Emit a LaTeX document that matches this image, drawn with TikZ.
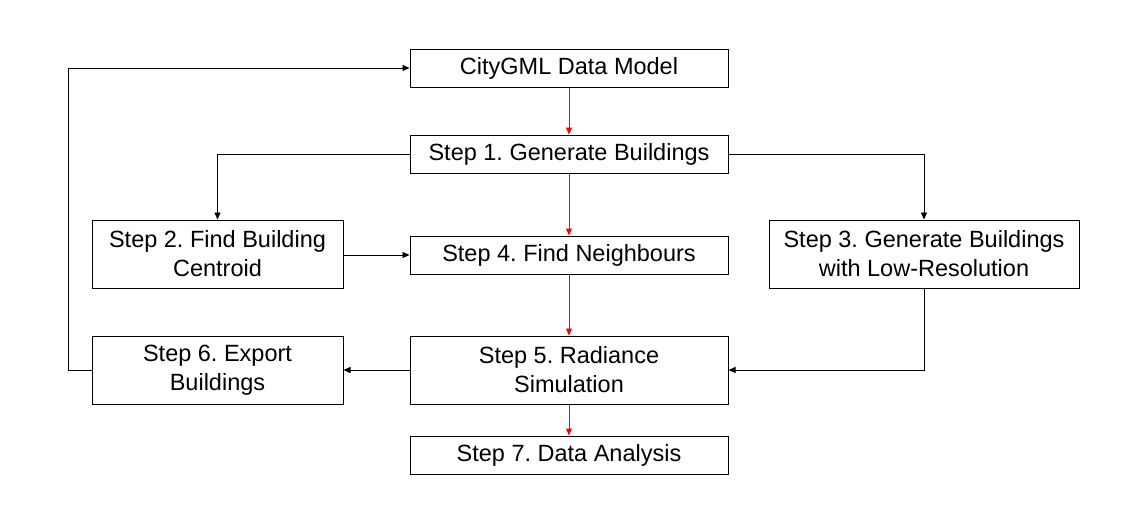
\documentclass[tikz,border=0pt]{standalone}
\usepackage{fontspec}
\setmainfont{Liberation Sans}
\usetikzlibrary{arrows.meta}
\frenchspacing
\begin{document}
\begin{tikzpicture}[x=1pt,y=-1pt,
  box/.style={draw=black,line width=1pt,inner sep=0pt,align=center,font=\fontsize{23.5}{29}\selectfont\frenchspacing},
  wide/.style={box,minimum width=318pt,minimum height=38pt},
  tall/.style={box,minimum height=68pt},
  conn/.style={line width=0.9pt,-{Triangle[length=7pt,width=6pt]}},
  redc/.style={conn,draw=red,-{Triangle[length=7pt,width=6pt,fill=red]}}]
\useasboundingbox (0,0) rectangle (1135,520);
\node[wide] (city) at (569,68) {\raisebox{-1.5pt}{CityGML Data Model}};
\node[wide] (s1) at (569,154) {\raisebox{-1.5pt}{Step 1. Generate Buildings}};
\node[tall,minimum width=251pt] (s2) at (217.5,254) {Step 2. Find Building\\Centroid};
\node[wide] (s4) at (569,255) {\raisebox{-1.5pt}{Step 4. Find Neighbours}};
\node[tall,minimum width=310pt] (s3) at (924,254) {Step 3. Generate Buildings\\with Low-Resolution};
\node[tall,minimum width=318pt] (s5) at (569,370) {Step 5. Radiance\\Simulation};
\node[tall,minimum width=251pt] (s6) at (217.5,370) {Step 6. Export\\Buildings};
\node[wide] (s7) at (569,455) {\raisebox{-1.5pt}{Step 7. Data Analysis}};
\coordinate (back) at (68,370);
\draw[redc] (city) -- (s1);
\draw[redc] (s1) -- (s4);
\draw[redc] (s4) -- (s5);
\draw[redc] (s5) -- (s7);
\draw[conn] (s1.west) -| (s2.north);
\draw[conn] (s1.east) -| (s3.north);
\draw[conn] (s2.east |- s4.west) -- (s4.west);
\draw[conn] (s3.south) |- (s5.east);
\draw[conn] (s5.west) -- (s6.east);
\draw[conn] (s6.west) -- (back) |- (city.west);
\end{tikzpicture}
\end{document}
